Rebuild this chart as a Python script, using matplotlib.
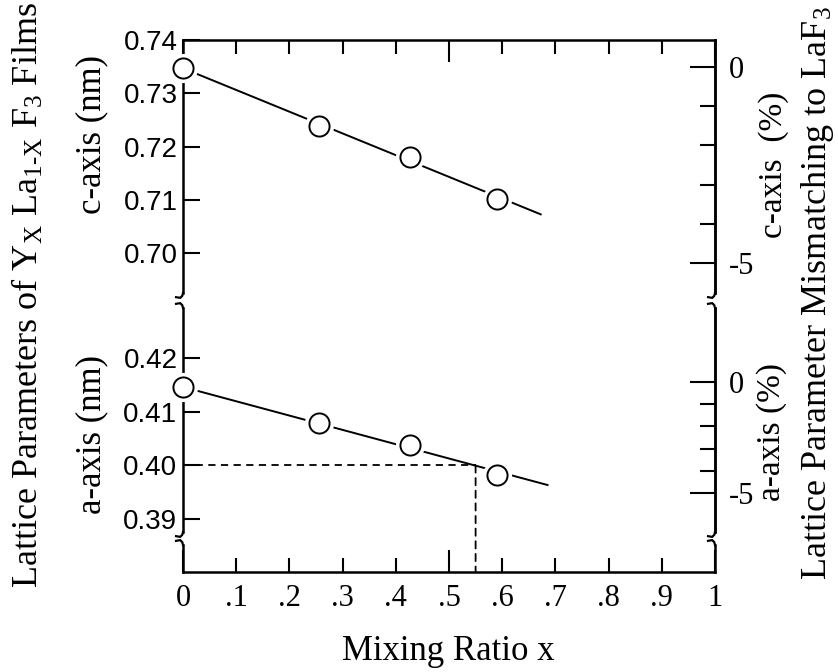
import matplotlib
matplotlib.use("Agg")
import matplotlib.pyplot as plt
import matplotlib.transforms as mtransforms
from matplotlib.patches import ConnectionPatch

plt.rcParams['mathtext.fontset'] = 'custom'
plt.rcParams['mathtext.rm'] = 'Liberation Serif'
plt.rcParams['mathtext.it'] = 'Liberation Serif:italic'

SERIF = 'Liberation Serif'
SANS = 'Liberation Sans'

##### data #####

mix_x = [0.0, 0.256, 0.427, 0.590]
c_axis = [0.7347, 0.7239, 0.7180, 0.7102]
a_axis = [0.4146, 0.4079, 0.4038, 0.3983]

# straight guide lines through the points
c_line_x = [0.0, 0.674]
c_line_y = [0.7347, 0.7072]
a_line_x = [0.0, 0.687]
a_line_y = [0.4146, 0.3963]

# LaF3 reference values used for the % scale
c_ref = 0.7349
a_ref = 0.4156

# dashed read-off at a = 0.40
guide_x = 0.55
guide_a = 0.40

c_ticks = [0.70, 0.71, 0.72, 0.73, 0.74]
c_tick_labels = ["0.70", "0.71", "0.72", "0.73", "0.74"]
a_ticks = [0.39, 0.40, 0.41, 0.42]
a_tick_labels = ["0.39", "0.40", "0.41", "0.42"]

x_major = [0.0, 0.5, 1.0]
x_major_labels = ["0", ".5", "1"]
x_minor = [0.1, 0.2, 0.3, 0.4, 0.6, 0.7, 0.8, 0.9]
x_minor_labels = [".1", ".2", ".3", ".4", ".6", ".7", ".8", ".9"]

pct_major = [0, -5]
pct_major_labels = ["0", "-5"]
pct_minor = [-1, -2, -3, -4]

##### figure #####

fig = plt.figure(figsize=(8.38, 6.72), dpi=100)

L, W = 183/838, 532/838
def box(top_px, bot_px):
	return [L, 1 - bot_px/672, W, (bot_px - top_px)/672]

ax_c = fig.add_axes(box(40, 293))
ax_a = fig.add_axes(box(308, 532))
ax_x = fig.add_axes(box(545, 572))

SPINE_W = 1.8
for ax in (ax_c, ax_a, ax_x):
	ax.set_xlim(0, 1)
	for s in ax.spines.values():
		s.set_linewidth(SPINE_W)
	ax.tick_params(which='both', direction='in', width=1.5, colors='black')

ax_c.spines['bottom'].set_visible(False)
ax_a.spines['bottom'].set_visible(False)
ax_a.spines['top'].set_visible(False)
ax_x.spines['top'].set_visible(False)

ax_c.set_ylim(0.6925, 0.74)
ax_a.set_ylim(0.3876, 0.4293)
ax_x.set_ylim(0, 1)

# x ticks: top of the c panel, bottom of the strip
for ax, top in ((ax_c, True), (ax_a, None), (ax_x, False)):
	ax.set_xticks(x_major, labels=x_major_labels)
	ax.set_xticks(x_minor, labels=x_minor_labels, minor=True)
	if top is None:
		ax.tick_params(which='both', bottom=False, top=False, labelbottom=False)
	else:
		ax.tick_params(which='both', bottom=not top, top=top, labelbottom=not top, labeltop=False)
	ax.tick_params(which='major', length=16)
	ax.tick_params(which='minor', length=10)
for lab in ax_x.get_xticklabels(which='both'):
	lab.set_fontfamily(SERIF)
	lab.set_fontsize(22)
ax_x.tick_params(which='both', pad=9)
ax_x.set_yticks([])

# left ticks
ax_c.set_yticks(c_ticks, labels=c_tick_labels)
ax_a.set_yticks(a_ticks, labels=a_tick_labels)
for ax in (ax_c, ax_a):
	ax.tick_params(axis='y', length=12, pad=4, labelsize=20)
	for lab in ax.get_yticklabels():
		lab.set_fontfamily(SANS)

# right % axes (twin with matching limits)
def pct_axis(ax, ref):
	tw = ax.twinx()
	lo, hi = ax.get_ylim()
	tw.set_ylim((lo/ref - 1)*100, (hi/ref - 1)*100)
	for name, s in tw.spines.items():
		s.set_visible(name == 'right')
		s.set_linewidth(SPINE_W)
	tw.set_yticks(pct_major, labels=pct_major_labels)
	tw.set_yticks(pct_minor, minor=True)
	tw.tick_params(which='both', direction='in', width=1.5)
	tw.tick_params(which='major', length=18, pad=10, labelsize=22)
	tw.tick_params(which='minor', length=11)
	for lab in tw.get_yticklabels():
		lab.set_fontfamily(SERIF)
	return tw

pct_axis(ax_c, c_ref)
pct_axis(ax_a, a_ref)

# lines and open circles
def series(ax, lx, ly, px, py):
	ax.plot(lx, ly, color='black', lw=1.4, solid_capstyle='butt')
	ax.plot(px, py, 'o', ms=20, mfc='white', mec='white', clip_on=False, zorder=3)
	ax.plot(px, py, 'o', ms=14.5, mfc='white', mec='black', mew=1.4, clip_on=False, zorder=4)

series(ax_c, c_line_x, c_line_y, mix_x, c_axis)
series(ax_a, a_line_x, a_line_y, mix_x, a_axis)

# dashed read-off
ax_a.plot([0, guide_x], [guide_a, guide_a], color='black', lw=1.3, ls=(0, (4, 3)))
con = ConnectionPatch(xyA=(guide_x, guide_a), coordsA=ax_a.transData,
		xyB=(guide_x, 0), coordsB=ax_x.transData,
		color='black', lw=1.3, ls=(0, (4, 3)))
fig.add_artist(con)

# axis break marks
def brace(ax, x, y, up):
	s = 1 if up else -1
	tr = fig.dpi_scale_trans + mtransforms.ScaledTranslation(x, y, ax.transAxes)
	px = [0, -0.5, -2, -5]
	py = [0, 2*s, 3.5*s, 3*s]
	ax.plot([p/72 for p in px], [p/72 for p in py], color='black', lw=1.6,
		transform=tr, clip_on=False)

for ax, ends in ((ax_c, [(0, False)]), (ax_a, [(1, True), (0, False)]), (ax_x, [(1, True)])):
	for yy, up in ends:
		brace(ax, 0, yy, up)
		brace(ax, 1, yy, up)

# labels
fig.text(448/838, 1 - 652/672, "Mixing Ratio x", ha='center', va='center',
	fontfamily=SERIF, fontsize=25)
fig.text(92/838, 1 - 134/672, "c-axis (nm)", rotation=90, ha='center', va='center',
	fontfamily=SERIF, fontsize=25)
fig.text(92/838, 1 - 435/672, "a-axis (nm)", rotation=90, ha='center', va='center',
	fontfamily=SERIF, fontsize=25)
fig.text(28/838, 1 - 295/672, r"Lattice Parameters of Y$_{\rm X}$ La$_{\rm 1\text{-}X}$ F$_3$ Films",
	rotation=90, ha='center', va='center', fontfamily=SERIF, fontsize=26)
fig.text(774/838, 1 - 165/672, "c-axis  (%)", rotation=90, ha='center', va='center',
	fontfamily=SERIF, fontsize=24)
fig.text(772/838, 1 - 432/672, "a-axis (%)", rotation=90, ha='center', va='center',
	fontfamily=SERIF, fontsize=24)
fig.text(817/838, 1 - 293/672, r"Lattice Parameter Mismatching to LaF$_3$",
	rotation=90, ha='center', va='center', fontfamily=SERIF, fontsize=26)

fig.savefig("out.png", dpi=100)
